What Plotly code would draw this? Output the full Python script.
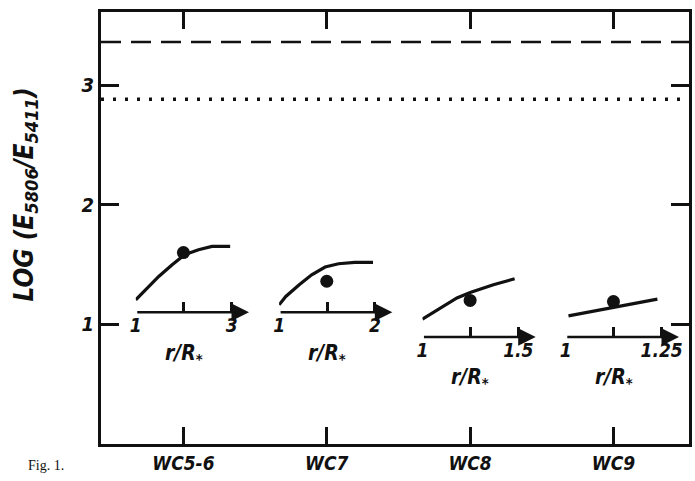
import plotly.graph_objects as go

# ---- data ----
categories = ["WC5-6", "WC7", "WC8", "WC9"]
dot_values = [1.60, 1.36, 1.20, 1.19]
dashed_level = 3.36
dotted_level = 2.88
y_ticks = [1, 2, 3]

inset_rmax = [3, 2, 1.5, 1.25]
inset_rmax_text = ["3", "2", "1.5", "1.25"]
inset_base = [1.10, 1.10, 0.895, 0.895]   # level of each inset r-axis, in main y units

curve1_r = [1.0, 1.20, 1.48, 1.76, 2.02, 2.31, 2.59, 2.97]
curve1_y = [1.205, 1.289, 1.40, 1.498, 1.582, 1.623, 1.651, 1.651]
curve2_r = [1.0, 1.07, 1.21, 1.34, 1.48, 1.62, 1.79, 1.98]
curve2_y = [1.163, 1.233, 1.331, 1.414, 1.479, 1.506, 1.517, 1.517]
curve3_r = [1.0, 1.112, 1.18, 1.249, 1.37, 1.481]
curve3_y = [1.043, 1.155, 1.22, 1.266, 1.331, 1.381]
curve4_r = [1.007, 1.069, 1.125, 1.18, 1.239]
curve4_y = [1.071, 1.107, 1.141, 1.172, 1.211]
curves = [(curve1_r, curve1_y), (curve2_r, curve2_y), (curve3_r, curve3_y), (curve4_r, curve4_y)]

# ---- layout geometry ----
W, H = 695, 481
L, R, T, B = 101, 2, 12, 37
PW = W - L - R
PH = H - T - B
x_range = [-0.575, 3.527]
y_range = [0, 3.61]

def px_of_x(xv):
    return L + (xv - x_range[0]) / (x_range[1] - x_range[0]) * PW

hand = "DejaVu Sans Condensed, DejaVu Sans, sans-serif"
black = "#111111"

fig = go.Figure()

layout = dict(
    width=W, height=H,
    margin=dict(l=L, r=R, t=T, b=B),
    paper_bgcolor="white", plot_bgcolor="rgba(0,0,0,0)",
    showlegend=False,
    xaxis=dict(range=x_range, tickvals=list(range(len(categories))), ticktext=categories,
               ticks="inside", ticklen=17, tickwidth=2.5, tickcolor=black,
               showline=True, linewidth=3, linecolor=black, mirror="ticks",
               showgrid=False, zeroline=False,
               tickfont=dict(family=hand, size=19, color=black, weight="bold", style="italic")),
    yaxis=dict(range=y_range, tickvals=y_ticks, ticktext=[str(v) for v in y_ticks],
               ticks="inside", ticklen=18, tickwidth=2.5, tickcolor=black,
               showline=True, linewidth=3, linecolor=black, mirror="ticks",
               showgrid=False, zeroline=False,
               tickfont=dict(family=hand, size=20, color=black, weight="bold", style="italic")),
)

annotations = []
shapes = [
    dict(type="line", xref="paper", yref="y", x0=0, x1=1, y0=dashed_level, y1=dashed_level,
         line=dict(color=black, width=2.5, dash="20px,10px")),
    dict(type="line", xref="paper", yref="y", x0=0, x1=1, y0=dotted_level, y1=dotted_level,
         line=dict(color=black, width=3.5, dash="3px,9px")),
]

for i, (cr, cy) in enumerate(curves):
    ax_name = "x%d" % (i + 2)
    key = "xaxis%d" % (i + 2)
    cpx = px_of_x(i)
    left_px = cpx - 48
    right_px = cpx + 48.5
    tip_px = cpx + 66
    rmax = inset_rmax[i]
    r_per_px = (rmax - 1) / (right_px - left_px)
    r_tip = 1 + (tip_px - left_px) * r_per_px
    dom = [(left_px - L) / PW, (tip_px - L) / PW]
    mid = (1 + rmax) / 2
    layout[key] = dict(
        domain=dom, range=[1, r_tip], anchor="free",
        position=inset_base[i] / y_range[1],
        tickvals=[1, mid, rmax], ticktext=["1", "", inset_rmax_text[i]],
        ticks="inside", ticklen=10, tickwidth=2.5, tickcolor=black,
        showline=False, showgrid=False, zeroline=False,
        tickfont=dict(family=hand, size=19, color=black, weight="bold", style="italic"))
    fig.add_trace(go.Scatter(x=cr, y=cy, mode="lines", line=dict(color=black, width=3.2),
                             xaxis=ax_name, yaxis="y", showlegend=False))
    annotations.append(dict(
        xref=ax_name, yref="y", x=r_tip, y=inset_base[i],
        axref=ax_name, ayref="y", ax=1, ay=inset_base[i],
        text="", showarrow=True, arrowhead=2, arrowsize=1.4, arrowwidth=2.5,
        arrowcolor=black, standoff=0, startstandoff=0))
    annotations.append(dict(
        xref=ax_name, yref="y", x=mid, y=inset_base[i] - 0.345,
        text="r/R<sub>*</sub>", showarrow=False,
        font=dict(family=hand, size=21, color=black, weight="bold", style="italic")))

# main dots (drawn last, on top)
fig.add_trace(go.Scatter(
    x=list(range(len(categories))), y=dot_values, mode="markers",
    marker=dict(size=13, color=black), showlegend=False, xaxis="x", yaxis="y"))

annotations.append(dict(
    xref="paper", yref="paper", x=(24 - L) / PW, y=(H - B - 195) / PH,
    xanchor="center", yanchor="middle",
    text="LOG (E<sub>5806</sub>/E<sub>5411</sub>)", textangle=-90, showarrow=False,
    font=dict(family=hand, size=26, color=black, weight="bold", style="italic")))
annotations.append(dict(
    xref="paper", yref="paper", x=(46 - L) / PW, y=(H - B - 466) / PH,
    xanchor="center", yanchor="middle",
    text="Fig. 1.", showarrow=False,
    font=dict(family="Liberation Serif, serif", size=14, color=black)))

layout["annotations"] = annotations
layout["shapes"] = shapes
fig.update_layout(**layout)
fig.write_html("out.html", config={"displayModeBar": False},
               post_script="document.body.style.margin='0';document.body.style.padding='0';")
